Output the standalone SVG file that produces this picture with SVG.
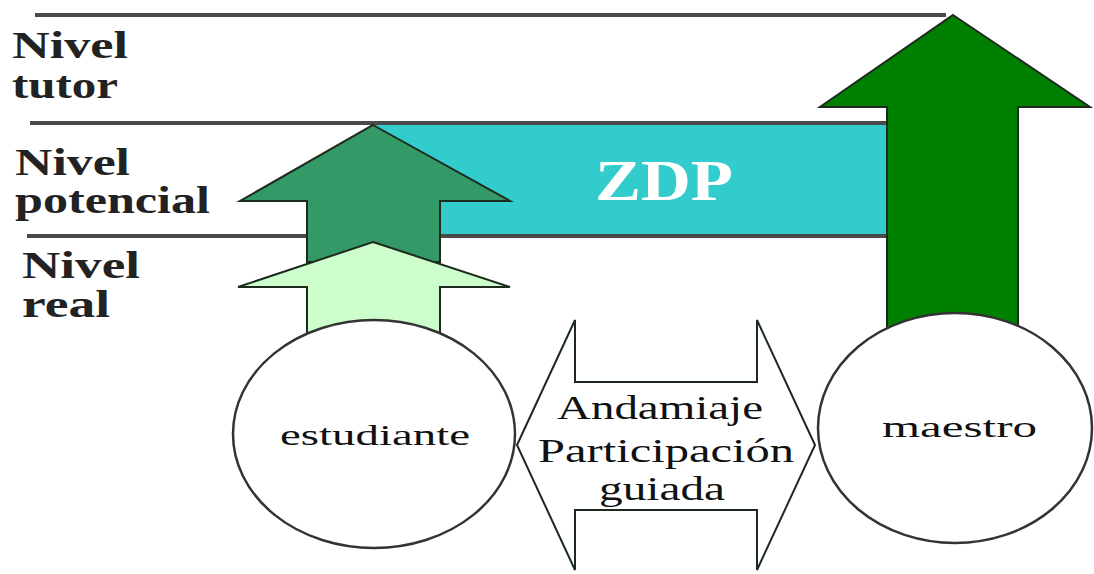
<svg xmlns="http://www.w3.org/2000/svg" width="1094" height="574" viewBox="0 0 1094 574">
<style>
.arr{stroke:#1e2a1e;stroke-width:2;stroke-linejoin:miter}
.ln{stroke:#4a4a4a;stroke-width:4}
.sf{font-family:'Liberation Serif','Times New Roman','DejaVu Serif',serif}
</style>
<rect width="1094" height="574" fill="#ffffff"/>
<g id="levels">
<line class="ln" x1="35" y1="15" x2="946" y2="15"/>
<line class="ln" x1="30" y1="123" x2="886" y2="123"/>
<line class="ln" x1="27" y1="236" x2="886" y2="236"/>
<text class="sf" x="12" y="58" textLength="116" lengthAdjust="spacingAndGlyphs" font-weight="bold" font-size="38" fill="#222">Nivel</text>
<text class="sf" x="12" y="98" textLength="106" lengthAdjust="spacingAndGlyphs" font-weight="bold" font-size="38" fill="#222">tutor</text>
<text class="sf" x="15" y="175" textLength="115" lengthAdjust="spacingAndGlyphs" font-weight="bold" font-size="38" fill="#222">Nivel</text>
<text class="sf" x="15" y="213" textLength="195" lengthAdjust="spacingAndGlyphs" font-weight="bold" font-size="38" fill="#222">potencial</text>
<text class="sf" x="22" y="278" textLength="118" lengthAdjust="spacingAndGlyphs" font-weight="bold" font-size="38" fill="#222">Nivel</text>
<text class="sf" x="22" y="317" textLength="88" lengthAdjust="spacingAndGlyphs" font-weight="bold" font-size="38" fill="#222">real</text>
</g>
<g id="zdp">
<rect x="372" y="125" width="514" height="109" fill="#33CCCC"/>
<text class="sf" x="595" y="200" textLength="138" lengthAdjust="spacingAndGlyphs" font-weight="bold" font-size="56" fill="#ffffff">ZDP</text>
</g>
<g id="connectors">
<path id="arrow-potencial" class="arr" fill="#339966" d="M373,125 L510,201 L440,201 L440,262 L307,262 L307,201 L240,201 Z"/>
<path id="arrow-real" class="arr" fill="#CCFFCC" d="M373,242 L510,287 L440,287 L440,340 L307,340 L307,287 L238,287 Z"/>
<path id="arrow-tutor" class="arr" fill="#008000" d="M953,15 L1090,107 L1018,107 L1018,340 L887,340 L887,107 L820,107 Z"/>
</g>
<g id="estudiante">
<ellipse cx="374" cy="434" rx="141" ry="114" fill="#ffffff" stroke="#333" stroke-width="2.5"/>
<text class="sf" x="280" y="445" textLength="190" lengthAdjust="spacingAndGlyphs" font-size="30" fill="#111">estudiante</text>
</g>
<g id="maestro">
<ellipse cx="955" cy="428" rx="137" ry="115" fill="#ffffff" stroke="#333" stroke-width="2.5"/>
<text class="sf" x="882" y="437" textLength="155" lengthAdjust="spacingAndGlyphs" font-size="30" fill="#111">maestro</text>
</g>
<g id="andamiaje">
<path class="arr" fill="#ffffff" stroke="#333" d="M517,445 L575,320 L575,382 L757,382 L757,320 L815,445 L757,570 L757,510 L575,510 L575,570 Z"/>
<text class="sf" x="557" y="419" textLength="206" lengthAdjust="spacingAndGlyphs" font-size="33" fill="#111">Andamiaje</text>
<text class="sf" x="538" y="462" textLength="256" lengthAdjust="spacingAndGlyphs" font-size="33" fill="#111">Participación</text>
<text class="sf" x="599" y="500" textLength="126" lengthAdjust="spacingAndGlyphs" font-size="33" fill="#111">guiada</text>
</g>
</svg>
